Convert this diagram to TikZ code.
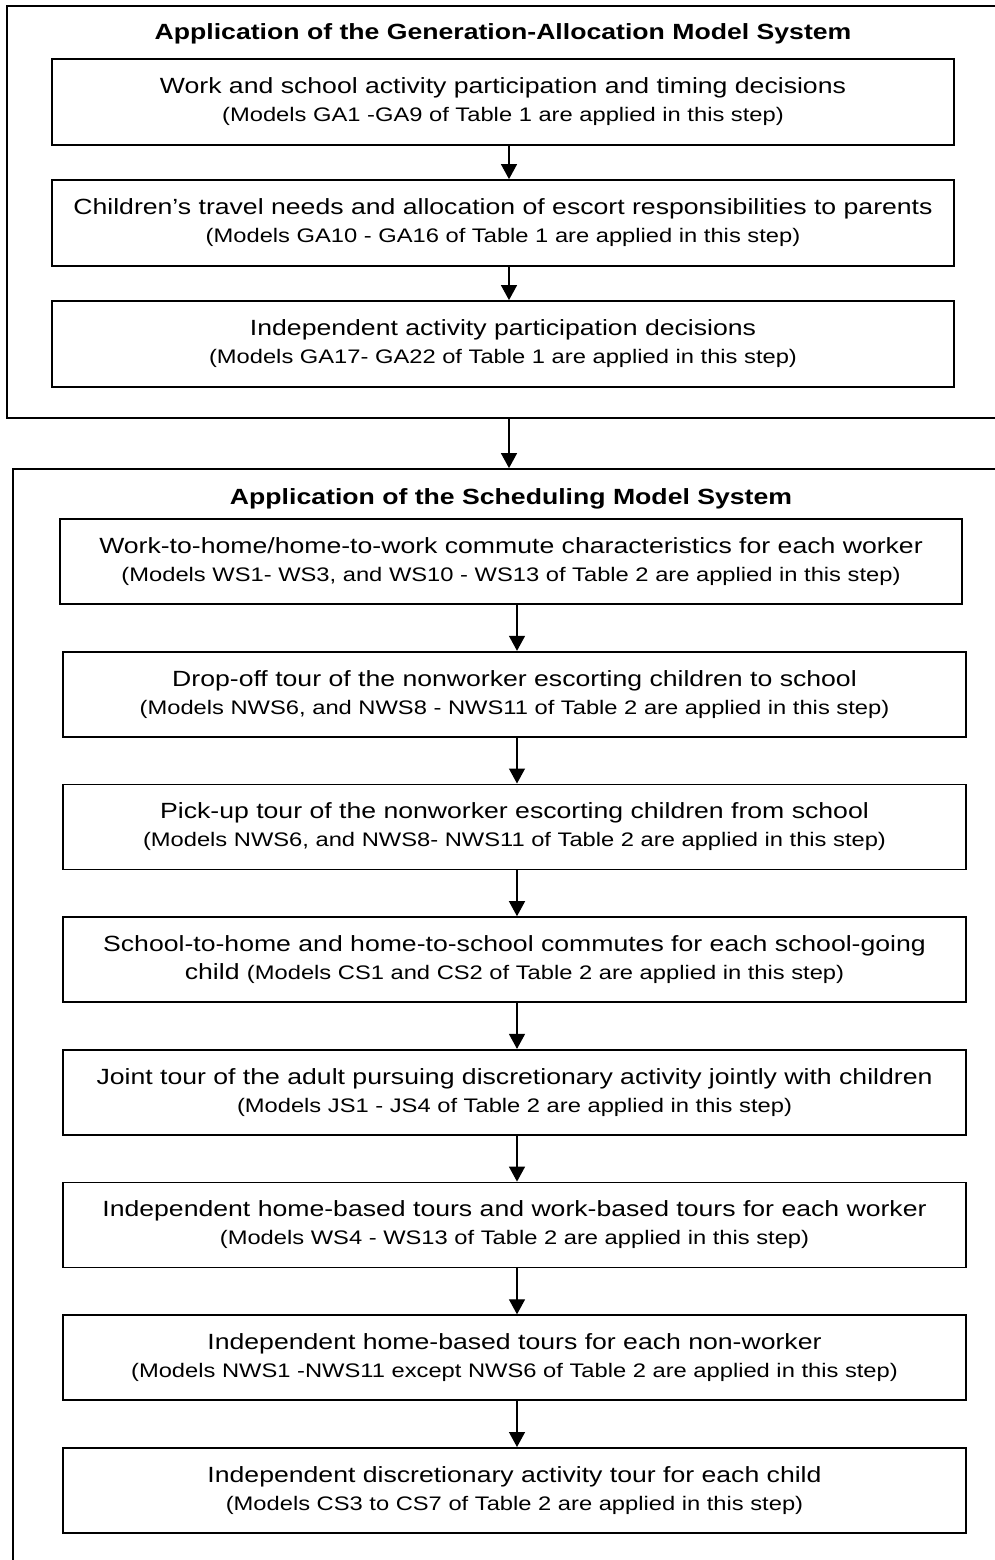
\documentclass[tikz,border=0pt]{standalone}
\usepackage{fontspec}
\setmainfont{Liberation Sans}[FakeStretch=1.21]
\usetikzlibrary{arrows.meta}

% smaller font for the model references
\newcommand{\modref}[1]{{\fontsize{19.6}{28}\selectfont #1}}

\begin{document}
\begin{tikzpicture}[
  x=1pt, y=-1pt,
  panel/.style={draw, line width=1.8pt, inner sep=0pt},
  ptitle/.style={font=\fontsize{22}{25}\selectfont\bfseries},
  stepbox/.style={draw, line width=1.8pt, align=center, inner sep=0pt,
                  minimum width=902pt, minimum height=86pt,
                  font=\fontsize{22}{28}\selectfont},
  arr/.style={-{Triangle[length=15pt, width=16pt]}, line width=1.3pt},
]

% Page size (1 unit = 1 pixel of the reference)
\useasboundingbox (0,0) rectangle (995,1560);
\clip (0,0) rectangle (995,1560);

% Arrow columns
\coordinate (ux) at (509,0);
\coordinate (lx) at (517,0);

% Panels
\node[panel, minimum width=1003pt, minimum height=412pt] (ga) at (508.5,212) {};
\node[panel, minimum width=997pt, minimum height=1131pt] (sched) at (511.5,1034.5) {};

\node[ptitle] (gatitle) at (503,34) {Application of the Generation-Allocation Model System};
\node[ptitle] (schedtitle) at (511,499) {Application of the Scheduling Model System};

% Generation-allocation steps
\node[stepbox] (g1) at (503,102) {Work and school activity participation and timing decisions\\
  \modref{(Models GA1 -GA9 of Table 1 are applied in this step)}};
\node[stepbox] (g2) at (503,223) {Children’s travel needs and allocation of escort responsibilities to parents\\
  \modref{(Models GA10 - GA16 of Table 1 are applied in this step)}};
\node[stepbox] (g3) at (503,344) {Independent activity participation decisions\\
  \modref{(Models GA17- GA22 of Table 1 are applied in this step)}};

% Scheduling steps
\def\p{132.7}
\node[stepbox, minimum height=85pt] (s1) at (511,561.5) {Work-to-home/home-to-work commute characteristics for each worker\\
  \modref{(Models WS1- WS3, and WS10 - WS13 of Table 2 are applied in this step)}};
\node[stepbox, minimum width=903pt, minimum height=85pt] (s2) at (514.5,561.5+\p) {Drop-off tour of the nonworker escorting children to school\\
  \modref{(Models NWS6, and NWS8 - NWS11 of Table 2 are applied in this step)}};
\node[stepbox, minimum width=903pt, minimum height=85pt] (s3) at (514.5,561.5+2*\p) {Pick-up tour of the nonworker escorting children from school\\
  \modref{(Models NWS6, and NWS8- NWS11 of Table 2 are applied in this step)}};
\node[stepbox, minimum width=903pt, minimum height=85pt] (s4) at (514.5,561.5+3*\p) {School-to-home and home-to-school commutes for each school-going\\
  child \modref{(Models CS1 and CS2 of Table 2 are applied in this step)}};
\node[stepbox, minimum width=903pt, minimum height=85pt] (s5) at (514.5,561.5+4*\p) {Joint tour of the adult pursuing discretionary activity jointly with children\\
  \modref{(Models JS1 - JS4 of Table 2 are applied in this step)}};
\node[stepbox, minimum width=903pt, minimum height=85pt] (s6) at (514.5,561.5+5*\p) {Independent home-based tours and work-based tours for each worker\\
  \modref{(Models WS4 - WS13 of Table 2 are applied in this step)}};
\node[stepbox, minimum width=903pt, minimum height=85pt] (s7) at (514.5,561.5+6*\p) {Independent home-based tours for each non-worker\\
  \modref{(Models NWS1 -NWS11 except NWS6 of Table 2 are applied in this step)}};
\node[stepbox, minimum width=903pt, minimum height=85pt] (s8) at (514.5,561.5+7*\p) {Independent discretionary activity tour for each child\\
  \modref{(Models CS3 to CS7 of Table 2 are applied in this step)}};

% Arrows
\draw[arr] (g1.south -| ux) -- (g2.north -| ux);
\draw[arr] (g2.south -| ux) -- (g3.north -| ux);
\draw[arr] (ga.south -| ux) -- (sched.north -| ux);
\draw[arr] (s1.south -| lx) -- (s2.north -| lx);
\draw[arr] (s2.south -| lx) -- (s3.north -| lx);
\draw[arr] (s3.south -| lx) -- (s4.north -| lx);
\draw[arr] (s4.south -| lx) -- (s5.north -| lx);
\draw[arr] (s5.south -| lx) -- (s6.north -| lx);
\draw[arr] (s6.south -| lx) -- (s7.north -| lx);
\draw[arr] (s7.south -| lx) -- (s8.north -| lx);

\end{tikzpicture}
\end{document}
